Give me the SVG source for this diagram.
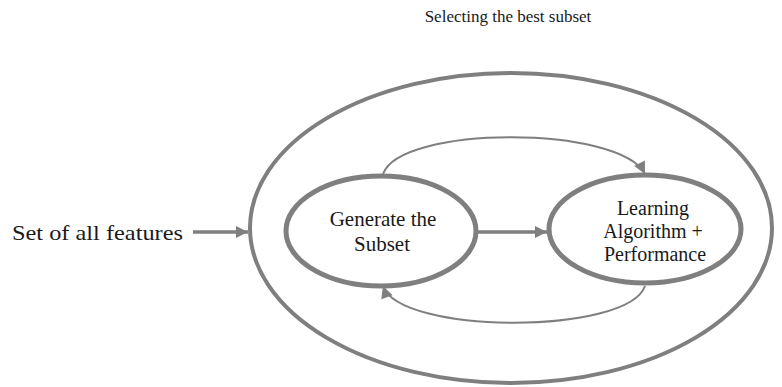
<svg xmlns="http://www.w3.org/2000/svg" width="782" height="387" viewBox="0 0 782 387">
<style>
.t{font-family:"Liberation Serif","Times New Roman",serif;fill:#1a1a1a;}
.ell{fill:none;stroke:#7f7f7f;}
.c{fill:none;stroke:#7f7f7f;}
</style>
<defs>
<marker id="ah" viewBox="0 0 10 10" refX="10" refY="5" markerWidth="14" markerHeight="12" markerUnits="userSpaceOnUse" orient="auto">
<path d="M0,0 L10,5 L0,10 Z" fill="#7f7f7f"/>
</marker>
</defs>
<rect width="782" height="387" fill="#ffffff"/>
<text class="t" x="508" y="22" font-size="17" text-anchor="middle">Selecting the best subset</text>
<g id="outer">
<ellipse class="ell" cx="511" cy="228" rx="261" ry="155" stroke-width="4"/>
</g>
<g id="input">
<text class="t" x="12" y="240" font-size="22" textLength="171" lengthAdjust="spacingAndGlyphs">Set of all features</text>
</g>
<g id="generate">
<ellipse class="ell" cx="381" cy="231" rx="95" ry="55" stroke-width="5"/>
<text class="t" x="383" y="226" font-size="21" text-anchor="middle">Generate the</text>
<text class="t" x="382" y="251" font-size="21" text-anchor="middle">Subset</text>
</g>
<g id="learning">
<ellipse class="ell" cx="645" cy="229" rx="96" ry="54" stroke-width="5"/>
<text class="t" x="653" y="215" font-size="20" text-anchor="middle">Learning</text>
<text class="t" x="653" y="238" font-size="20" text-anchor="middle">Algorithm +</text>
<text class="t" x="655" y="261" font-size="20" text-anchor="middle">Performance</text>
</g>
<g id="connectors">
<line class="c" x1="193" y1="232" x2="248" y2="232" stroke-width="3.5" marker-end="url(#ah)"/>
<line class="c" x1="477" y1="232" x2="547" y2="232" stroke-width="3.5" marker-end="url(#ah)"/>
<path class="c" d="M383,174 C400,125 620,125 645,174" stroke-width="2" marker-end="url(#ah)"/>
<path class="c" d="M645,286 C628,335 400,335 383,286" stroke-width="2" marker-end="url(#ah)"/>
</g>
</svg>
